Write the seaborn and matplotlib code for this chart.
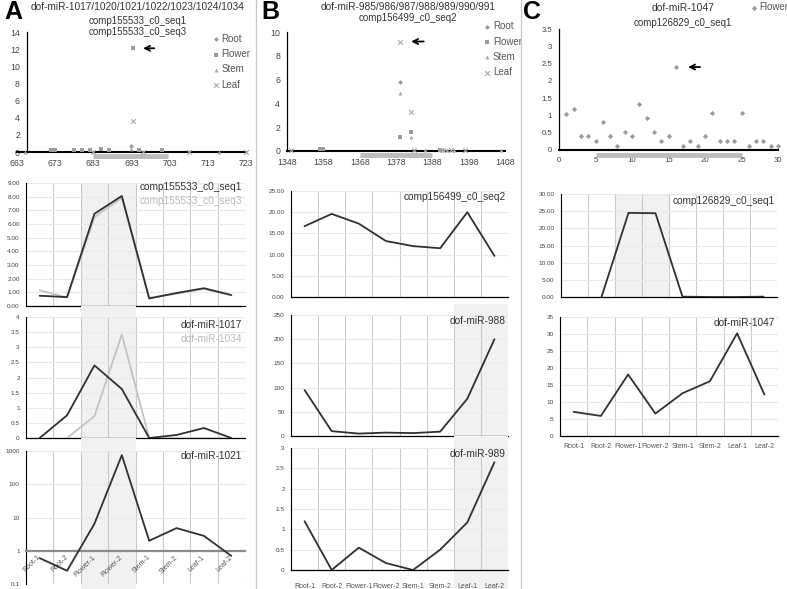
import matplotlib
matplotlib.use("Agg")
import matplotlib.pyplot as plt
import seaborn as sns
import numpy as np
from matplotlib.ticker import FuncFormatter, NullLocator
from matplotlib.lines import Line2D

# ---------------- data ----------------
tissues = ["Root-1", "Root-2", "Flower-1", "Flower-2", "Stem-1", "Stem-2", "Leaf-1", "Leaf-2"]

# Panel A top (read-coverage scatter)
A_root_x = [693]
A_root_y = [0.75]
A_flower_x = [672, 673, 678, 680, 682, 685, 687, 693.5, 695, 701]
A_flower_y = [0.2, 0.2, 0.2, 0.2, 0.2, 0.3, 0.2, 12.1, 0.2, 0.2]
A_stem_x = [665, 693, 716]
A_stem_y = [0.05, 0.4, 0.05]
A_leaf_x = [683, 693.5, 696, 708, 723]
A_leaf_y = [0.05, 3.6, 0.05, 0.05, 0.05]
A_mature = [683, 702.5]
A_arrow = [693.5, 12.1]

# Panel B top
B_root_x = [1379, 1390, 1391]
B_root_y = [5.8, 0.1, 0.1]
B_flower_x = [1357, 1358, 1379, 1382, 1390]
B_flower_y = [0.15, 0.15, 1.2, 1.6, 0.1]
B_stem_x = [1379, 1382, 1386, 1392, 1394, 1407]
B_stem_y = [4.9, 1.2, 0.05, 0.1, 0.05, 0.05]
B_leaf_x = [1349, 1379, 1382, 1383, 1391, 1393, 1397]
B_leaf_y = [0.1, 9.2, 3.3, 0.05, 0.1, 0.1, 0.05]
B_mature = [1368, 1388]
B_arrow = [1379, 9.2]

# Panel C top
C_pos = list(range(1, 31))
C_flower = [1.05, 1.2, 0.4, 0.4, 0.27, 0.8, 0.4, 0.13, 0.53, 0.4,
            1.33, 0.93, 0.53, 0.27, 0.4, 2.4, 0.13, 0.27, 0.13, 0.4,
            1.07, 0.27, 0.27, 0.27, 1.07, 0.13, 0.27, 0.27, 0.13, 0.13]
C_mature = [5, 25]
C_arrow = [16, 2.4]

# Expression profiles
A1_seq1 = [0.75, 0.65, 6.75, 8.05, 0.55, 0.95, 1.3, 0.8]
A1_seq3 = [1.15, 0.62, 6.5, 7.9, 0.6, 0.9, 1.25, 0.8]
A2_1017 = [0.0, 0.75, 2.4, 1.62, 0.0, 0.1, 0.33, 0.0]
A2_1034 = [None, 0.0, 0.72, 3.42, 0.0, 0.0, 0.0, 0.0]
A3_1021 = [0.6, 0.25, 6.5, 750, 2.0, 4.8, 2.8, 0.7]
B1_seq2 = [16.7, 19.6, 17.3, 13.2, 12.0, 11.5, 20.0, 9.7]
B2_988 = [95, 10, 5, 7, 6, 9, 77, 200]
B3_989 = [1.2, 0.0, 0.55, 0.17, 0.0, 0.5, 1.17, 2.65]
C1_seq1 = [None, 0.0, 24.5, 24.4, 0.1, 0.0, 0.0, 0.1]
C2_1047 = [7.1, 5.9, 18.1, 6.6, 12.6, 16.1, 30.2, 12.2]

# ---------------- style ----------------
sns.set_theme(style="white")
plt.rcParams['font.family'] = ['Liberation Sans', 'DejaVu Sans']

W, H = 787, 589
fig = plt.figure(figsize=(W / 100, H / 100), dpi=100)


def add_ax(x0, y0, x1, y1):
    return fig.add_axes([x0 / W, 1 - y1 / H, (x1 - x0) / W, (y1 - y0) / H])


def gfmt(v, pos=None):
    return f"{v:g}"


DARK = '#303030'
LIGHT = '#c4c4c4'
SHADE = '#f1f1f1'
MK = dict(Root=('D', '#9a9a9a', 6), Flower=('s', '#9c9c9c', 11),
          Stem=('^', '#a6a6a6', 8), Leaf=('x', '#ababab', 12))


def scatter_panel(ax, series, xlim, xticks, ylim, yticks, mature, arrow, arrow_dx,
                  bar_y, fs, leg_anchor, yfmt=gfmt, left_at=None):
    if left_at is not None:
        ax.spines['left'].set_position(('data', left_at))
    for item in series:
        name, xs, ys = item[:3]
        m, c, s = MK[name]
        if len(item) > 3:
            m, s = item[3], item[4]
        if m == 'x':
            sns.scatterplot(x=xs, y=ys, ax=ax, marker='x', color=c, s=s, linewidth=0.8,
                            label=name, zorder=3, clip_on=False)
        else:
            sns.scatterplot(x=xs, y=ys, ax=ax, marker=m, color=c, s=s, linewidth=0,
                            label=name, zorder=3, clip_on=False)
    ax.set_xlim(*xlim)
    ax.set_ylim(*ylim)
    ax.set_xticks(xticks)
    ax.set_yticks(yticks)
    ax.yaxis.set_major_formatter(FuncFormatter(yfmt))
    ax.xaxis.set_major_formatter(FuncFormatter(gfmt))
    for s in ['top', 'right']:
        ax.spines[s].set_visible(False)
    ax.spines['bottom'].set_color('black')
    ax.spines['bottom'].set_linewidth(1.5)
    ax.spines['left'].set_color('black')
    ax.spines['left'].set_linewidth(0.9)
    ax.tick_params(axis='both', labelsize=fs, labelcolor='#444444', length=3, width=0.7,
                   direction='out', pad=2, color='black')
    ax.plot(mature, [bar_y, bar_y], color='#bdbdbd', lw=3.5, solid_capstyle='butt',
            clip_on=False, zorder=2)
    ax.annotate('', xy=(arrow[0] + arrow_dx[0], arrow[1]),
                xytext=(arrow[0] + arrow_dx[1], arrow[1]),
                arrowprops=dict(arrowstyle='->', color='black', lw=1.3, mutation_scale=9))
    ax.legend(loc='upper left', bbox_to_anchor=leg_anchor, frameon=False, fontsize=7,
              handlelength=0.6, handletextpad=0.3, labelspacing=0.55, borderpad=0,
              borderaxespad=0, labelcolor='#555555')
    ax.set_xlabel('')
    ax.set_ylabel('')
    ax.set_facecolor('none')


def line_panel(ax, series, ylim, yticks, yfmt, label_items, label_ys, shade=None,
               shade_ext=(0.0, 0.0), xlabels=False, xlabel_pad=4, rot=False, log=False,
               ytick_fs=4.6, spine_at=None):
    x = np.arange(8)
    if spine_at is not None:
        ax.spines['bottom'].set_position(('data', spine_at))
    if shade is not None:
        span = ax.axvspan(shade[0], shade[1], ymin=-shade_ext[0], ymax=1 + shade_ext[1],
                          color=SHADE, lw=0, zorder=0)
        span.set_clip_on(False)
    for vals, col in series:
        xs = [xi for xi, v in zip(x, vals) if v is not None]
        ys = [v for v in vals if v is not None]
        sns.lineplot(x=xs, y=ys, ax=ax, color=col, lw=1.3, zorder=3)
    if log:
        ax.set_yscale('log')
        ax.yaxis.set_minor_locator(NullLocator())
    ax.set_xlim(-0.5, 7.5)
    ax.set_ylim(*ylim)
    ax.set_yticks(yticks)
    ax.yaxis.set_major_formatter(FuncFormatter(yfmt))
    ax.set_xticks(np.arange(-0.5, 8, 1))
    ax.set_xticklabels([])
    ax.set_xticks(x, minor=True)
    if xlabels:
        if rot:
            ax.set_xticklabels(tissues, minor=True, rotation=45, ha='right', va='center',
                               rotation_mode='anchor', fontsize=5, color='#555555')
        else:
            ax.set_xticklabels(tissues, minor=True, fontsize=5, color='#555555')
    else:
        ax.set_xticklabels([], minor=True)
    ax.tick_params(axis='x', which='minor', length=0, pad=xlabel_pad)
    ax.tick_params(axis='x', which='major', length=2.5, width=0.7, color='black',
                   direction='out')
    ax.tick_params(axis='y', which='major', length=2.5, width=0.7, color='black',
                   labelsize=ytick_fs, labelcolor='#444444', pad=2)
    ax.xaxis.grid(True, which='major', color='#c9c9c9', lw=0.8)
    ax.yaxis.grid(True, which='major', color='#e9e9e9', lw=0.8)
    ax.set_axisbelow(True)
    for s in ['top', 'right']:
        ax.spines[s].set_visible(False)
    ax.spines['left'].set_color('black')
    ax.spines['left'].set_linewidth(0.8)
    ax.spines['bottom'].set_color('black')
    ax.spines['bottom'].set_linewidth(0.9)
    for (txt, col), yy in zip(label_items, label_ys):
        ax.text(0.988, yy, txt, transform=ax.transAxes, ha='right', va='center',
                fontsize=7.3, color=col)
    ax.set_xlabel('')
    ax.set_ylabel('')
    ax.set_facecolor('none')


# ---------------- Panel A ----------------
axA = add_ax(17, 32, 246, 152)
scatter_panel(axA,
              [('Root', A_root_x, A_root_y), ('Flower', A_flower_x, A_flower_y),
               ('Stem', A_stem_x, A_stem_y), ('Leaf', A_leaf_x, A_leaf_y)],
              (663, 723), np.arange(663, 724, 10), (0, 14), np.arange(0, 15, 2),
              A_mature, A_arrow, (1.8, 6.2), -0.45, 6.3, (0.855, 0.985), left_at=665.6)

axA1 = add_ax(26, 183, 245, 306)
line_panel(axA1, [(A1_seq3, LIGHT), (A1_seq1, DARK)], (0, 9), np.arange(0, 10, 1),
           lambda v, p=None: f"{v:.2f}",
           [("comp155533_c0_seq1", '#333333'), ("comp155533_c0_seq3", '#bbbbbb')],
           [0.967, 0.854], shade=(1.5, 3.5))

axA2 = add_ax(26, 317, 245, 438)
line_panel(axA2, [(A2_1034, LIGHT), (A2_1017, DARK)], (0, 4), np.arange(0, 4.01, 0.5),
           gfmt, [("dof-miR-1017", '#333333'), ("dof-miR-1034", '#bbbbbb')],
           [0.934, 0.818], shade=(1.5, 3.5), shade_ext=(0.0, 0.095))

axA3 = add_ax(26, 451, 245, 584)
line_panel(axA3, [(A3_1021, DARK)], (0.1, 1000), [0.1, 1, 10, 100, 1000], gfmt,
           [("dof-miR-1021", '#333333')], [0.962], shade=(1.5, 3.5),
           shade_ext=(0.04, 0.1), xlabels=True, rot=True, xlabel_pad=4, log=True,
           spine_at=1)
axA3.spines['bottom'].set_color('#8a8a8a')
axA3.spines['bottom'].set_linewidth(1.6)

# ---------------- Panel B ----------------
axB = add_ax(287, 32, 505, 151)
scatter_panel(axB,
              [('Root', B_root_x, B_root_y), ('Flower', B_flower_x, B_flower_y),
               ('Stem', B_stem_x, B_stem_y), ('Leaf', B_leaf_x, B_leaf_y)],
              (1348, 1408), np.arange(1348, 1409, 10), (0, 10), np.arange(0, 11, 2),
              B_mature, B_arrow, (2.4, 7.4), -0.33, 6.3, (0.905, 1.09))

axB1 = add_ax(291, 191, 508, 297)
line_panel(axB1, [(B1_seq2, DARK)], (0, 25), np.arange(0, 26, 5),
           lambda v, p=None: f"{v:.2f}", [("comp156499_c0_seq2", '#333333')], [0.943])

axB2 = add_ax(291, 315, 508, 436)
line_panel(axB2, [(B2_988, DARK)], (0, 250), np.arange(0, 251, 50), gfmt,
           [("dof-miR-988", '#333333')], [0.95], shade=(5.5, 7.5), shade_ext=(0.0, 0.09))

axB3 = add_ax(291, 448, 508, 570)
line_panel(axB3, [(B3_989, DARK)], (0, 3), np.arange(0, 3.01, 0.5), gfmt,
           [("dof-miR-989", '#333333')], [0.95], shade=(5.5, 7.5), shade_ext=(0.16, 0.1),
           xlabels=True, xlabel_pad=9)

# ---------------- Panel C ----------------
axC = add_ax(559, 29, 778, 150)
scatter_panel(axC, [('Flower', C_pos, C_flower, 'D', 7)],
              (0, 30), np.arange(0, 31, 5), (0, 3.5), np.arange(0, 3.51, 0.5),
              C_mature, C_arrow, (1.3, 3.7), -0.145, 5.6, (0.875, 1.22))

axC1 = add_ax(561, 194, 777, 297)
line_panel(axC1, [(C1_seq1, DARK)], (0, 30), np.arange(0, 31, 5),
           lambda v, p=None: f"{v:.2f}", [("comp126829_c0_seq1", '#333333')], [0.93],
           shade=(1.5, 3.5))

axC2 = add_ax(560, 317, 778, 436)
line_panel(axC2, [(C2_1047, DARK)], (0, 35), np.arange(0, 36, 5), gfmt,
           [("dof-miR-1047", '#333333')], [0.95], xlabels=True, xlabel_pad=5)

# ---------------- titles / letters ----------------
def ftext(x, y, s, **kw):
    fig.text(x / W, 1 - y / H, s, **kw)

ftext(4, 12, "A", fontsize=18, fontweight='bold', ha='left', va='center', color='black')
ftext(261, 12, "B", fontsize=18, fontweight='bold', ha='left', va='center', color='black')
ftext(523, 12, "C", fontsize=18, fontweight='bold', ha='left', va='center', color='black')

ftext(138, 7, "dof-miR-1017/1020/1021/1022/1023/1024/1034", fontsize=7.3, ha='center', va='center', color='#333333')
ftext(138, 21, "comp155533_c0_seq1", fontsize=7, ha='center', va='center', color='#333333')
ftext(138, 32, "comp155533_c0_seq3", fontsize=7, ha='center', va='center', color='#333333')
ftext(408, 7, "dof-miR-985/986/987/988/989/990/991", fontsize=7.3, ha='center', va='center', color='#333333')
ftext(408, 18, "comp156499_c0_seq2", fontsize=7, ha='center', va='center', color='#333333')
ftext(683, 8, "dof-miR-1047", fontsize=7.5, ha='center', va='center', color='#333333')
ftext(683, 23, "comp126829_c0_seq1", fontsize=7, ha='center', va='center', color='#333333')

# panel separators
for xs in (256, 521):
    fig.add_artist(Line2D([xs / W, xs / W], [0, 1], transform=fig.transFigure,
                          color='#c8c8c8', lw=0.9))

fig.savefig("out.png", dpi=100)
